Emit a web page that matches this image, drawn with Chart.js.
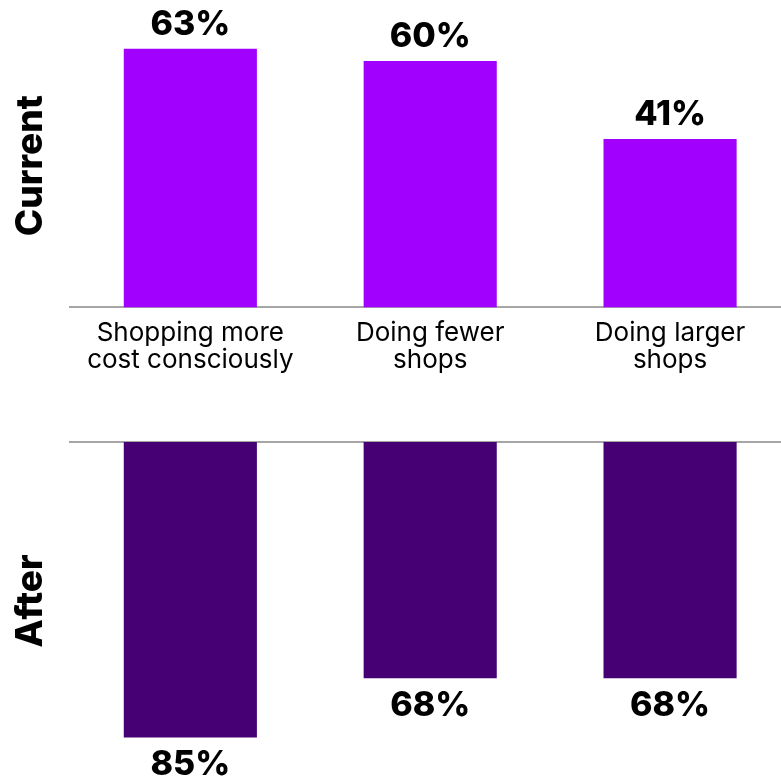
<!DOCTYPE html>
<html>
<head>
<meta charset="utf-8">
<script src="https://cdn.jsdelivr.net/npm/chart.js@4.4.1/dist/chart.umd.min.js"></script>
<style>
  html, body { margin: 0; padding: 0; background: #fff; overflow: hidden; }
  #wrap { position: relative; width: 781px; height: 781px; overflow: hidden; }
  canvas { position: absolute; left: 0; }
  #currentChart { top: 0; }
  #afterChart { top: 390px; }
</style>
</head>
<body>
<div id="wrap">
  <canvas id="currentChart" width="790" height="390"></canvas>
  <canvas id="afterChart" width="790" height="391"></canvas>
</div>
<script>
// Data
const categories = [
    ['Shopping more', 'cost consciously'],
    ['Doing fewer', 'shops'],
    ['Doing larger', 'shops']
];
const currentValues = [63, 60, 41];
const afterValues = [85, 68, 68];

const valueFont = '800 34px Inter, "DejaVu Sans", sans-serif';

// Draws the "NN%" labels at the end of each bar
const valueLabels = {
    id: 'valueLabels',
    afterDatasetsDraw(chart, args, opts) {
        const ctx = chart.ctx;
        const meta = chart.getDatasetMeta(0);
        const values = chart.data.datasets[0].data;
        ctx.save();
        ctx.font = valueFont;
        ctx.fillStyle = '#000';
        ctx.textAlign = 'center';
        ctx.textBaseline = 'alphabetic';
        meta.data.forEach((bar, i) => {
            const y = opts.below ? bar.y + opts.gap : bar.y - opts.gap;
            ctx.fillText(values[i] + '%', bar.x, y);
        });
        ctx.restore();
    }
};

function yTitle(text) {
    return {
        display: true,
        text: text,
        color: '#000',
        font: { family: 'Inter', size: 37, weight: '800', lineHeight: 1.2 },
        padding: { top: 9, bottom: 17 }
    };
}

Chart.defaults.font.family = 'Inter';
Chart.defaults.color = '#000';

// Current (top)
new Chart(document.getElementById('currentChart'), {
    type: 'bar',
    data: {
        labels: categories,
        datasets: [{
            data: currentValues,
            backgroundColor: '#A100FF',
            categoryPercentage: 1,
            barPercentage: 0.555
        }]
    },
    options: {
        responsive: false,
        animation: false,
        layout: { padding: { top: 24, bottom: 4, left: 0, right: 0 } },
        plugins: {
            legend: { display: false },
            tooltip: { enabled: false },
            valueLabels: { below: false, gap: 14 }
        },
        scales: {
            x: {
                grid: { display: false, drawTicks: false },
                border: { display: true, color: '#a6a6a6', width: 2 },
                ticks: {
                    color: '#000',
                    padding: 12,
                    font: { size: 26, lineHeight: 1.05 }
                }
            },
            y: {
                min: 0,
                max: 69,
                grid: { display: false, drawTicks: false },
                border: { display: false },
                ticks: { display: false },
                title: yTitle('Current')
            }
        }
    },
    plugins: [valueLabels]
});

// After (bottom, bars hang down from the axis)
new Chart(document.getElementById('afterChart'), {
    type: 'bar',
    data: {
        labels: categories,
        datasets: [{
            data: afterValues,
            backgroundColor: '#460073',
            categoryPercentage: 1,
            barPercentage: 0.555
        }]
    },
    options: {
        responsive: false,
        animation: false,
        layout: { padding: { top: 52, bottom: 21, left: 0, right: 0 } },
        plugins: {
            legend: { display: false },
            tooltip: { enabled: false },
            valueLabels: { below: true, gap: 38 }
        },
        scales: {
            x: {
                position: 'top',
                grid: { display: false, drawTicks: false },
                border: { display: true, color: '#a6a6a6', width: 2 },
                ticks: { display: false }
            },
            y: {
                reverse: true,
                min: 0,
                max: 91.5,
                grid: { display: false, drawTicks: false },
                border: { display: false },
                ticks: { display: false },
                title: yTitle('After')
            }
        }
    },
    plugins: [valueLabels]
});
</script>
</body>
</html>
